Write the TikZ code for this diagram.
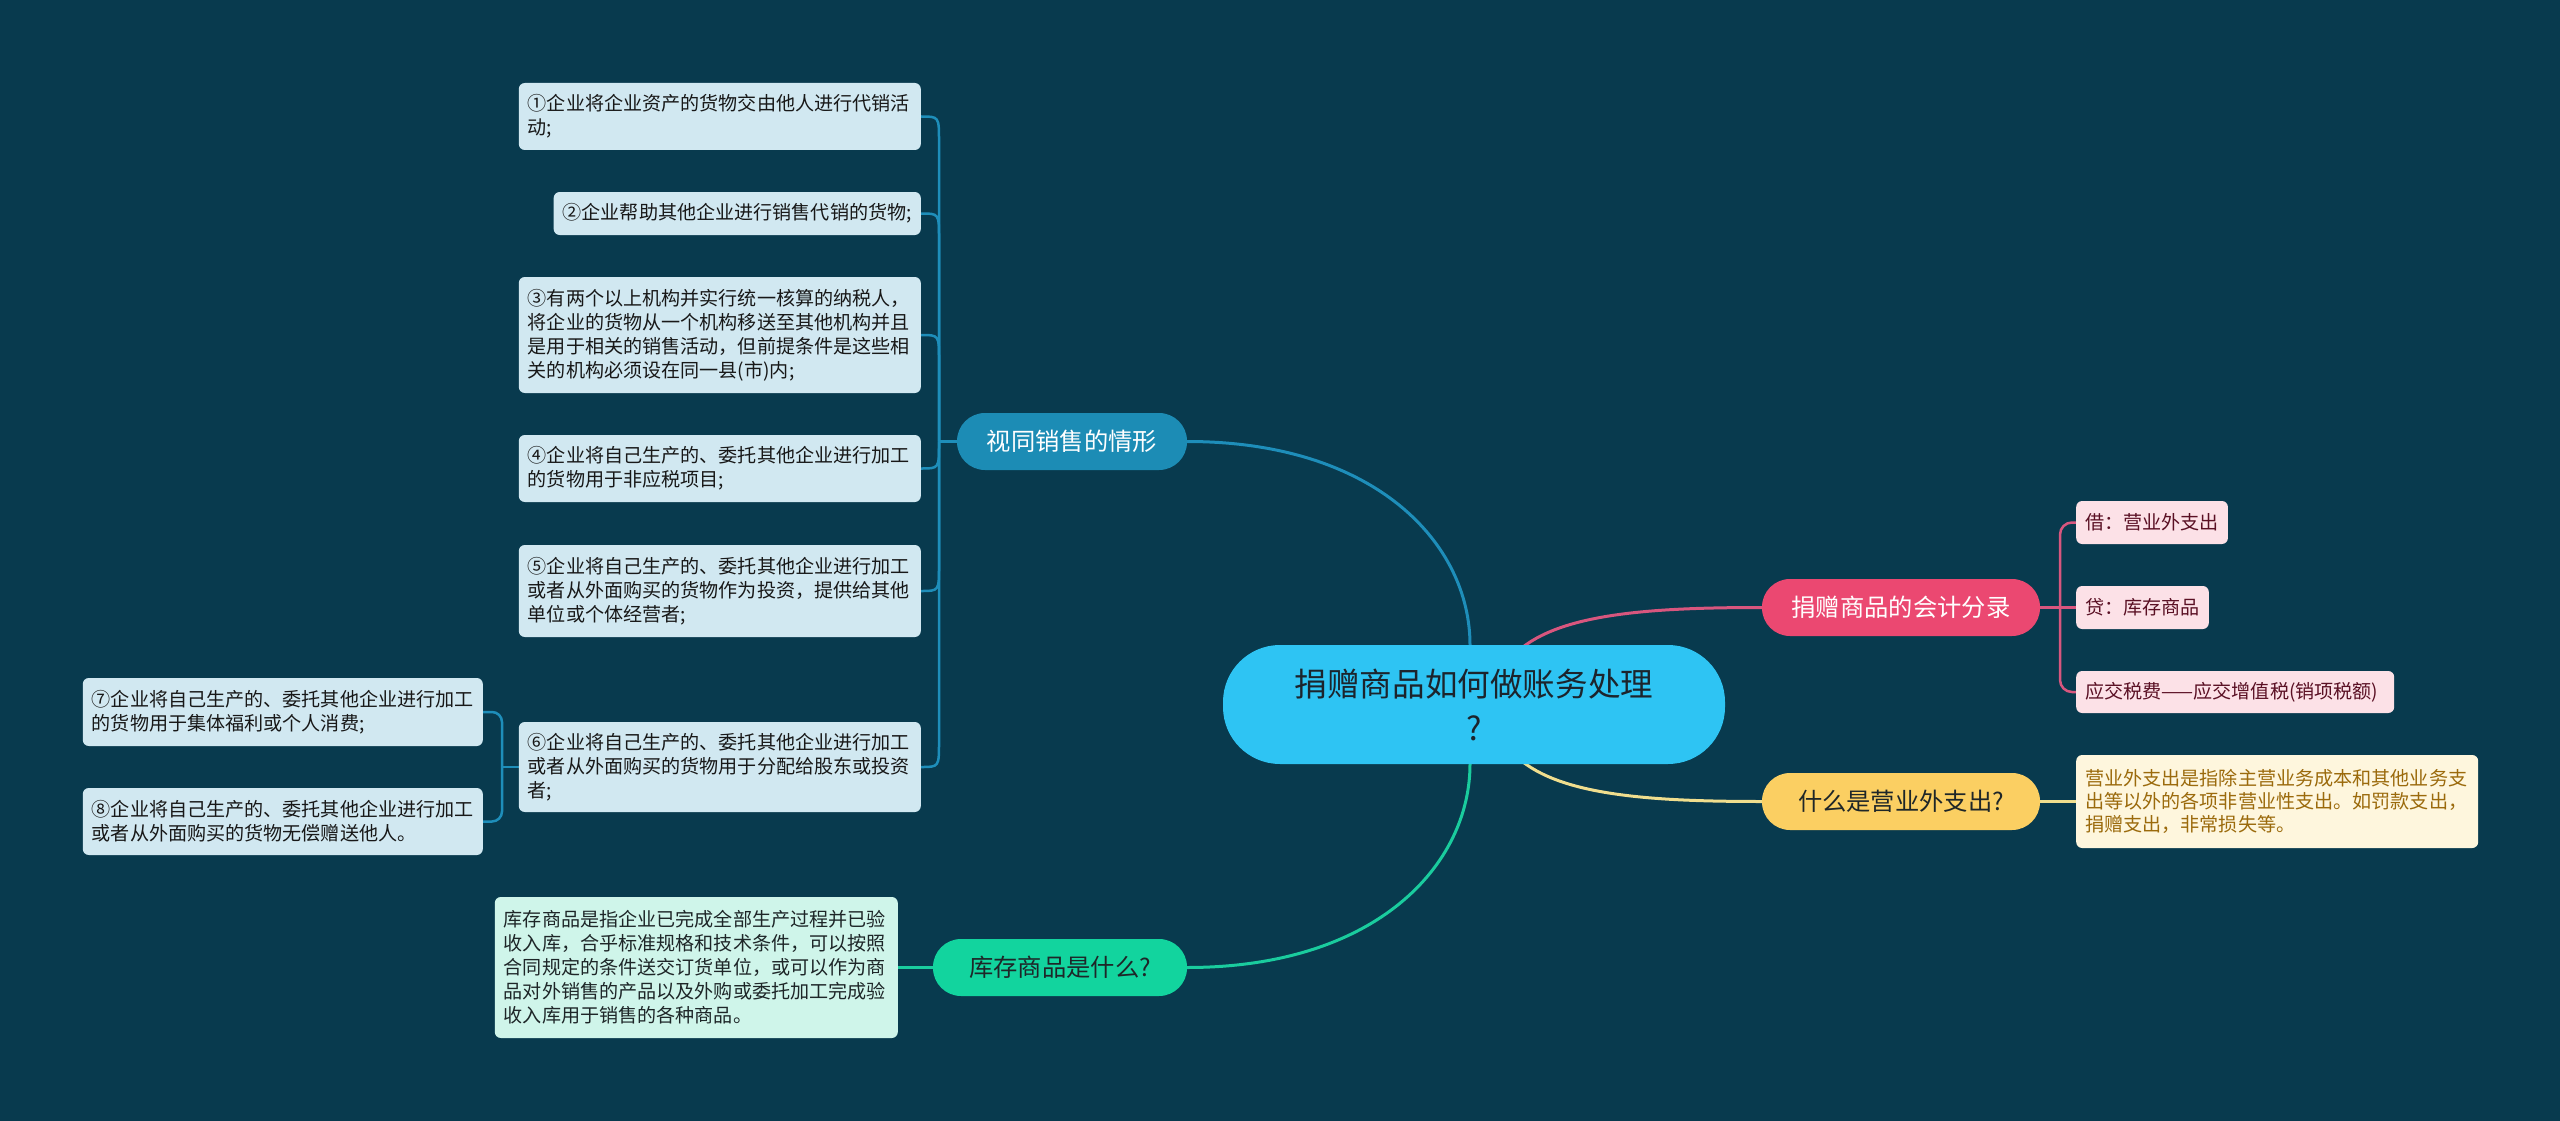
\documentclass[tikz,border=0pt]{standalone}
\usepackage{fontspec}
\newfontfamily\cjk{Noto Sans CJK SC}
\usetikzlibrary{calc}
\pgfdeclarelayer{back}\pgfdeclarelayer{lines}
\pgfsetlayers{back,lines,main}
\definecolor{bgc}{RGB}{8,58,78}
\definecolor{cfill}{RGB}{46,196,243}
\definecolor{ctext}{RGB}{28,36,44}
\definecolor{bfill}{RGB}{28,140,181}
\definecolor{bline}{RGB}{30,142,186}
\definecolor{lbfill}{RGB}{209,232,241}
\definecolor{lbtext}{RGB}{24,24,24}
\definecolor{pfill}{RGB}{235,72,113}
\definecolor{pline}{RGB}{216,86,126}
\definecolor{lpfill}{RGB}{252,225,231}
\definecolor{lptext}{RGB}{90,16,36}
\definecolor{yfill}{RGB}{251,207,98}
\definecolor{yline}{RGB}{240,222,142}
\definecolor{lyfill}{RGB}{254,246,221}
\definecolor{lytext}{RGB}{155,106,12}
\definecolor{gfill}{RGB}{18,212,158}
\definecolor{gline}{RGB}{26,204,158}
\definecolor{lgfill}{RGB}{207,245,234}
\definecolor{darktext}{RGB}{30,38,40}
\begin{document}
\begin{tikzpicture}[x=1pt,y=-1pt,
  leaf/.style={rounded corners=6pt, inner xsep=9pt, inner ysep=0pt, align=left,
    font=\cjk\fontsize{19.1}{24}\selectfont},
  bleaf/.style={leaf, fill=lbfill, text=lbtext},
  pleaf/.style={leaf, fill=lpfill, text=lptext},
  branch/.style={rounded corners=28pt, minimum height=57pt, inner sep=0pt,
    font=\cjk\fontsize{24.3}{30}\selectfont},
  bedge/.style={draw=bline, line width=2.5pt},
  mainedge/.style={line width=3pt},
]
\begin{pgfonlayer}{back}
\fill[bgc] (0,0) rectangle (2560,1121);
\end{pgfonlayer}
\useasboundingbox (0,0) rectangle (2560,1121);

% central
\node[fill=cfill, text=ctext, rounded corners=57pt, minimum width=502pt, minimum height=119pt,
  inner sep=0pt, align=center, font=\cjk\fontsize{32.6}{44}\selectfont]
  (c) at (1474,704.5) {捐赠商品如何做账务处理\\?};

% main branches
\node[branch, fill=bfill, text=white, minimum width=230pt] (b) at (1072,441.5) {视同销售的情形};
\node[branch, fill=pfill, text=white, minimum width=278pt] (p) at (1901,607.5) {捐赠商品的会计分录};
\node[branch, fill=yfill, text=darktext, minimum width=278pt] (y) at (1901,801.5) {什么是营业外支出?};
\node[branch, fill=gfill, text=darktext, minimum width=254pt] (g) at (1060,967.5) {库存商品是什么?};

% blue leaves
\node[bleaf, anchor=east, text width=384pt, minimum height=67pt] (l1) at (921,116.5)
  {①企业将企业资产的货物交由他人进行代销活\\动;};
\node[bleaf, anchor=east, minimum height=43pt] (l2) at (921,213.5)
  {②企业帮助其他企业进行销售代销的货物;};
\node[bleaf, anchor=east, text width=384pt, minimum height=116pt] (l3) at (921,335)
  {③有两个以上机构并实行统一核算的纳税人，\\将企业的货物从一个机构移送至其他机构并且\\是用于相关的销售活动，但前提条件是这些相\\关的机构必须设在同一县(市)内;};
\node[bleaf, anchor=east, text width=384pt, minimum height=67pt] (l4) at (921,468.5)
  {④企业将自己生产的、委托其他企业进行加工\\的货物用于非应税项目;};
\node[bleaf, anchor=east, text width=384pt, minimum height=92pt] (l5) at (921,591)
  {⑤企业将自己生产的、委托其他企业进行加工\\或者从外面购买的货物作为投资，提供给其他\\单位或个体经营者;};
\node[bleaf, anchor=east, text width=384pt, minimum height=90pt] (l6) at (921,767)
  {⑥企业将自己生产的、委托其他企业进行加工\\或者从外面购买的货物用于分配给股东或投资\\者;};
\node[bleaf, anchor=east, text width=382pt, minimum height=68pt] (l7) at (483,712)
  {⑦企业将自己生产的、委托其他企业进行加工\\的货物用于集体福利或个人消费;};
\node[bleaf, anchor=east, text width=382pt, minimum height=67pt] (l8) at (483,821.5)
  {⑧企业将自己生产的、委托其他企业进行加工\\或者从外面购买的货物无偿赠送他人。};

% green description
\node[leaf, fill=lgfill, text=darktext, anchor=east, text width=385pt, minimum height=141pt] (gd) at (898,967.5)
  {库存商品是指企业已完成全部生产过程并已验\\收入库，合乎标准规格和技术条件，可以按照\\合同规定的条件送交订货单位，或可以作为商\\品对外销售的产品以及外购或委托加工完成验\\收入库用于销售的各种商品。};

% pink leaves
\node[pleaf, anchor=west, minimum height=43pt] (pl1) at (2076,522.5) {借：营业外支出};
\node[pleaf, anchor=west, minimum height=43pt] (pl2) at (2076,607.5) {贷：库存商品};
\node[pleaf, anchor=west, minimum height=42pt, text width=300pt] (pl3) at (2076,692) {应交税费——应交增值税(销项税额)};

% yellow description
\node[leaf, fill=lyfill, text=lytext, anchor=west, text width=384pt, minimum height=93pt,
  font=\cjk\fontsize{19.1}{22.8}\selectfont] (yd) at (2076,801.5)
  {营业外支出是指除主营业务成本和其他业务支\\出等以外的各项非营业性支出。如罚款支出，\\捐赠支出，非常损失等。};

\coordinate (sp) at (939,441.5);
\coordinate (sp2) at (502,767);
\coordinate (sp3) at (2060,607.5);

\begin{pgfonlayer}{lines}
% main connectors
\draw[mainedge, draw=bline] (b.east) .. controls +(190,0) and +(0,-100) .. ([xshift=-4pt]c.north);
\draw[mainedge, draw=gline] (g.east) .. controls +(190,0) and +(0,100) .. ([xshift=-4pt]c.south);
\draw[mainedge, draw=pline] ([xshift=40pt,yshift=-10pt]c.north) .. controls +(40,-40) and +(-120,0) .. (p.west);
\draw[mainedge, draw=yline] ([xshift=40pt,yshift=10pt]c.south) .. controls +(40,40) and +(-120,0) .. (y.west);

% blue leaf connectors
\draw[bedge] (b.west) -- (sp);
\draw[bedge] (sp) -- ($(sp |- l1.east)+(0,25)$) .. controls (sp |- l1.east) .. (l1.east);
\draw[bedge] (sp) -- ($(sp |- l2.east)+(0,25)$) .. controls (sp |- l2.east) .. (l2.east);
\draw[bedge] (sp) -- ($(sp |- l3.east)+(0,25)$) .. controls (sp |- l3.east) .. (l3.east);
\draw[bedge] (sp) -- ($(sp |- l4.east)+(0,-25)$) .. controls (sp |- l4.east) .. (l4.east);
\draw[bedge] (sp) -- ($(sp |- l5.east)+(0,-25)$) .. controls (sp |- l5.east) .. (l5.east);
\draw[bedge] (sp) -- ($(sp |- l6.east)+(0,-25)$) .. controls (sp |- l6.east) .. (l6.east);
\draw[bedge] (l6.west) -- (sp2);
\draw[bedge, rounded corners=10pt] (l7.east) -- (sp2 |- l7.east) -- (sp2 |- l8.east) -- (l8.east);

% pink leaf connectors
\draw[draw=pline, line width=2.5pt] (p.east) -- (pl2.west);
\draw[draw=pline, line width=2.5pt, rounded corners=12pt] (pl1.west) -- (sp3 |- pl1.west) -- (sp3 |- pl3.west) -- (pl3.west);

% yellow and green description connectors
\draw[draw=yline, line width=2.5pt] (y.east) -- (yd.west);
\draw[draw=gline, line width=2.5pt] (g.west) -- (gd.east);
\end{pgfonlayer}
\end{tikzpicture}
\end{document}
